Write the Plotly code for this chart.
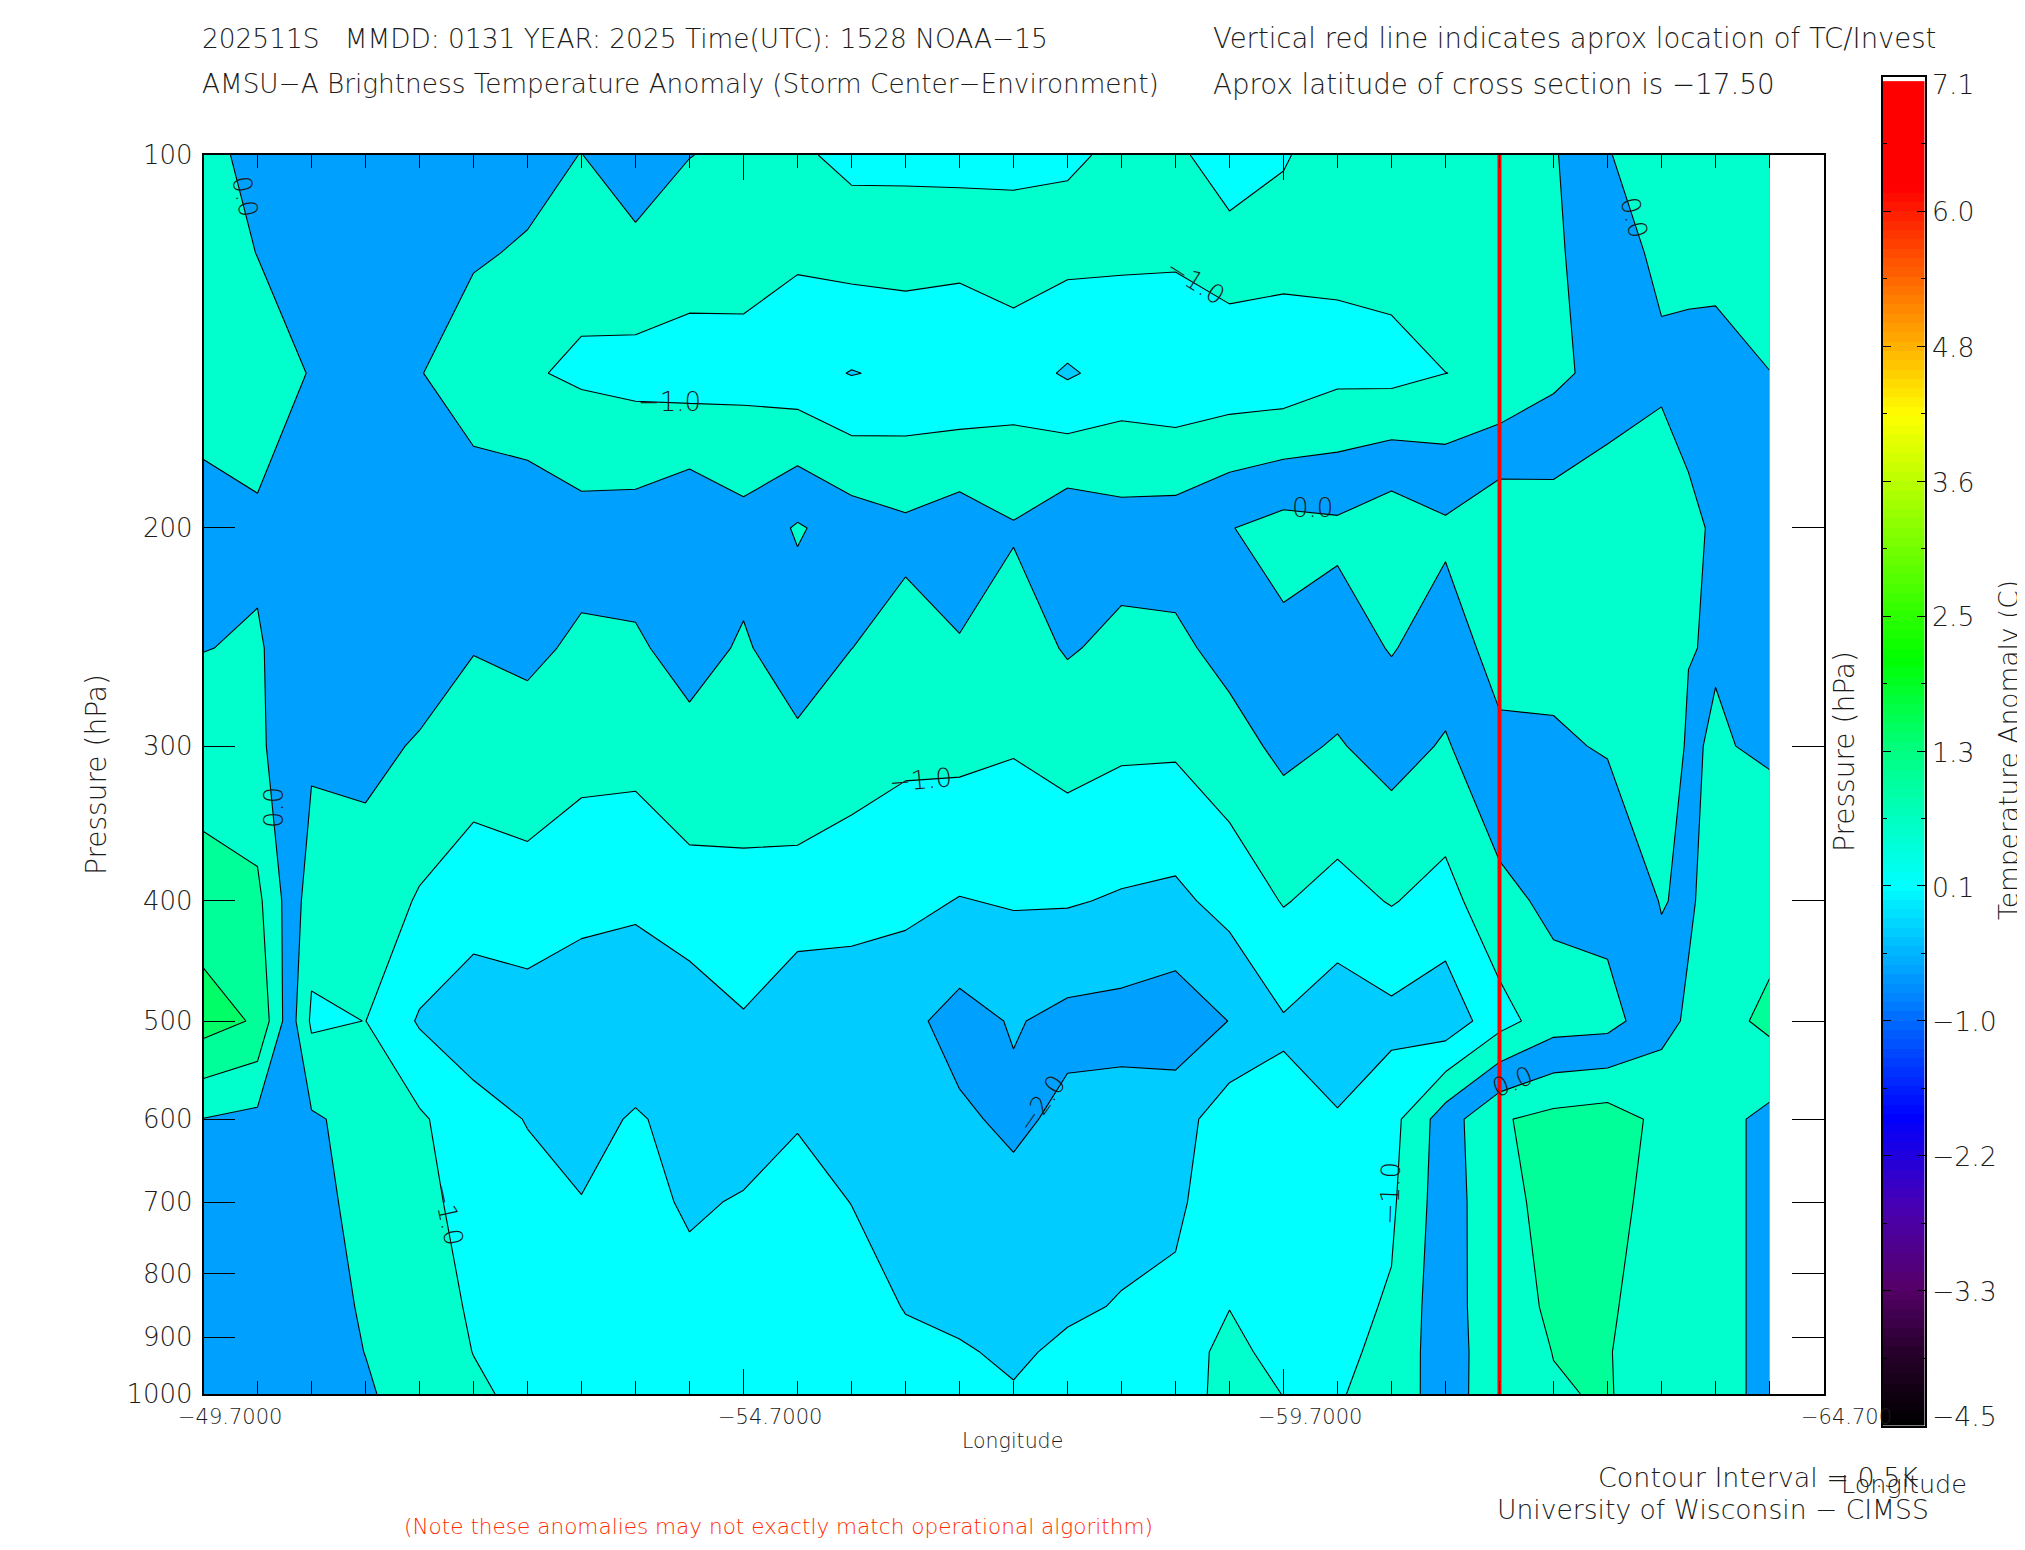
import plotly.graph_objects as go

W, H = 2025, 1550
OX, OY = 8, 8  # page offset of the plot div

# grid: longitude columns, pressure rows, anomaly values per row
lons = [-49.7, -50.2, -50.7, -51.2, -51.7, -52.2, -52.7, -53.2, -53.7, -54.2,
        -54.7, -55.2, -55.7, -56.2, -56.7, -57.2, -57.7, -58.2, -58.7, -59.2,
        -59.7, -60.2, -60.7, -61.2, -61.7, -62.2, -62.7, -63.2, -63.45, -63.7, -64.2]
pressure = [100, 120, 150, 200, 250, 300, 400, 500, 600, 700, 850, 925, 1000]

z_100 = [.2, -.2, -.2, -.25, -.25, -.26, -.34, -.51, -.15, -.49, -.6, -.95, -1.08, -1.088, -1.075,
         -1.127, -1.057, -.93, -.87, -1.345, -1.035, -.8, -.75, -.7, -.65, -.55, -.02, .2, .2, .2, .2]
z_120 = [.27, -.01, -.2, -.28, -.32, -.45, -.55, -.82, -.66, -.77, -.82, -.93, -.82, -.81, -.85,
         -.773, -.84, -.93, -.925, -.74, -.82, -.92, -.84, -.78, -.72, -.57, -.25, .115, .22, .157, .2]
z_150 = [.34, .276, -.03, -.25, -.48, -.75, -.95, -1.08, -1.16, -1.23, -1.175, -1.32, -1.52, -1.41, -1.45,
         -1.27, -1.56, -1.31, -1.4, -1.355, -1.35, -1.125, -1.15, -1.002, -.96, -.62, -.32, -.103, -.25, -.2, -.005]
z_200 = [-.27, -.08, -.12, -.09, -.04, -.22, -.15, -.32, -.28, -.05, -.33, .05, -.23, -.4, -.21,
         -.46, -.13, -.3, -.26, -.02, .18, .1, .36, .09, .445, .283, .38, .37, .14, -.085, -.4]
z_250 = [-.01, .04, -.28, -.24, -.29, -.48, -.41, -.575, -.56, -.34, -.55, -.27, -.497, -.645, -.54,
         -.71, -.46, -.61, -.6, -.35, -.11, -.22, .03, -.23, .17, .11, .2, .28, .01, -.02, -.23]
z_300 = [.23, .08, -.41, -.39, -.54, -.74, -.68, -.83, -.84, -.63, -.73, -.59, -.76, -.89, -.87,
         -.96, -.8, -.92, -.93, -.68, -.39, -.54, -.31, -.55, -.1, -.05, .03, .19, -.036, .03, -.05]
z_400 = [.72, .62, -.76, -.69, -1.05, -1.27, -1.2, -1.34, -1.39, -1.21, -1.14, -1.23, -1.3, -1.38, -1.52,
         -1.46, -1.46, -1.55, -1.61, -1.33, -.97, -1.17, -.97, -1.18, -.64, -.39, -.33, .02, -.06, .17, .28]
z_500 = [1.22, .94, -1.08, -.995, -1.55, -1.79, -1.73, -1.85, -1.95, -1.79, -1.54, -1.87, -1.83, -1.87, -2.18,
         -1.96, -2.13, -2.17, -2.28, -1.99, -1.54, -1.81, -1.64, -1.82, -1.185, -.73, -.68, -.156, .067, .3, .62]
z_600 = [-.01, -.13, -.44, -.66, -.93, -1.31, -1.52, -1.7, -1.44, -1.7, -1.8, -1.55, -1.8, -1.85, -1.92,
         -2.1, -1.886, -1.805, -1.72, -1.21, -1.41, -1.46, -1.17, -.236, .45, .65, .74, .38, .28, .17, -.13]
z_700 = [-.2, -.25, -.4, -.6, -.85, -1.19, -1.354, -1.48, -1.3, -1.58, -1.45, -1.26, -1.51, -1.75, -1.8,
         -1.85, -1.8, -1.72, -1.6, -1.15, -1.3, -1.3, -1.08, -.2, .3, .7, .7, .28, .23, .17, -.13]
z_850 = [-.2, -.25, -.38, -.53, -.72, -1.07, -1.25, -1.3, -1.25, -1.3, -1.25, -1.2, -1.2, -1.53, -1.65,
         -1.65, -1.6, -1.46, -1.39, -1.01, -1.25, -1.15, -.95, -.15, .22, .6, .58, .2, .18, .17, -.13]
z_925 = [-.2, -.25, -.35, -.505, -.66, -1.01, -1.2, -1.25, -1.2, -1.25, -1.2, -1.15, -1.15, -1.35, -1.44,
         -1.6, -1.38, -1.3, -1.2, -.88, -1.15, -1.1, -.88, -.17, .22, .51, .53, .2, .18, .17, -.13]
z_1000 = [-.2, -.2, -.25, -.46, -.65, -.9, -1.15, -1.2, -1.2, -1.2, -1.2, -1.1, -1.1, -1.3, -1.35,
          -1.45, -1.3, -1.25, -1.1, -.93, -1.003, -1.02, -.9, -.15, .2, .46, .54, .2, .18, .17, -.13]

tc_lon = -61.7

# first entry only pads the scale, plotly reads the fill one band up
band_colors = ['#00a0ff', '#00a0ff', '#00ccff', '#00ffff', '#00ffcc', '#00a0ff', '#00ffcc', '#00ff99', '#00ff66']

y_ticks = [100, 200, 300, 400, 500, 600, 700, 800, 900, 1000]
x_major = [-49.7, -54.7, -59.7, -64.7]
x_minor = [-50.2, -50.7, -51.2, -51.7, -52.2, -52.7, -53.2, -53.7, -54.2, -55.2, -55.7, -56.2, -56.7, -57.2,
           -57.7, -58.2, -58.7, -59.2, -60.2, -60.7, -61.2, -61.7, -62.2, -62.7, -63.2, -63.7, -64.2]

# colour bar ramp
cb_stops = [[-4.5, '#000000'], [-3.9, '#250028'], [-3.3, '#55006a'], [-2.6, '#4800b4'], [-1.85, '#0000ff'],
            [.14, '#00ffff'], [1.3, '#00ff80'], [2.1, '#00ff00'], [4.18, '#ffff00'], [6.15, '#ff0000'], [7.1, '#ff0000']]
cb_major = [-4.5, -3.34, -2.18, -1.02, .14, 1.3, 2.46, 3.62, 4.78, 5.94, 7.1]
cb_minor = [-3.92, -2.76, -1.6, -.44, .72, 1.88, 3.04, 4.2, 5.36, 6.52]
cb_labels = ['−4.5', '−3.3', '−2.2', '−1.0', '0.1', '1.3', '2.5', '3.6', '4.8', '6.0', '7.1']
cb_label_y = [1416, 1291, 1156, 1021, 887, 752, 617, 482, 347, 212, 84]

FONT = 'DejaVu Sans Light, DejaVu Sans'
INK = '#1c1c1c'


def fx(x):
    return (x - OX) / (W - OX)


def fy(y):
    return 1 - (y - OY) / (H - OY)


fig = go.Figure()

n = len(band_colors)
scale = []
for i, c in enumerate(band_colors):
    scale += [[i / n, c], [(i + 1) / n, c]]

fig.add_trace(go.Contour(
    x=lons, y=pressure,
    z=[z_100, z_120, z_150, z_200, z_250, z_300, z_400, z_500, z_600, z_700, z_850, z_925, z_1000],
    autocontour=False,
    contours=dict(start=-2.5, end=1.5, size=.5, coloring='fill', showlabels=False),
    colorscale=scale, showscale=False,
    line=dict(color='black', width=1.1, smoothing=0),
    hoverinfo='skip',
))
fig.add_trace(go.Scatter(x=[tc_lon, tc_lon], y=[100, 1000], mode='lines',
                         line=dict(color='#ff0000', width=4), hoverinfo='skip', showlegend=False))

# colour bar as its own little heatmap
lo, hi = -4.5, 7.1
cb_y = [round(-4.5 + .08 * i, 2) for i in range(145)]
stops = [[(v - lo) / (hi - lo), c] for v, c in cb_stops]
fig.add_trace(go.Heatmap(x=[0], y=cb_y, z=[[v] for v in cb_y], zmin=lo, zmax=hi, colorscale=stops,
                         showscale=False, hoverinfo='skip', xaxis='x2', yaxis='y2'))

fig.update_layout(
    width=W - OX, height=H - OY, margin=dict(l=0, r=0, t=0, b=0, autoexpand=False), autosize=False,
    paper_bgcolor='white', plot_bgcolor='white', showlegend=False,
    xaxis=dict(domain=[fx(203.5), fx(1823.5)], range=[-49.7, -64.7], autorange=False, showgrid=False, zeroline=False,
               showline=True, mirror='allticks', linecolor='black', linewidth=1.5,
               tickmode='array', tickvals=x_major, ticks='inside', ticklen=25, tickcolor='black', tickwidth=1,
               showticklabels=False,
               minor=dict(tickmode='array', tickvals=x_minor, ticks='inside', ticklen=13, tickcolor='black', tickwidth=1)),
    yaxis=dict(domain=[fy(1394), fy(155)], type='log', range=[3, 2], autorange=False, showgrid=False, zeroline=False,
               showline=True, mirror='allticks', linecolor='black', linewidth=1.5,
               tickmode='array', tickvals=y_ticks, ticktext=[str(v) for v in y_ticks],
               ticks='inside', ticklen=32, tickcolor='black', tickwidth=1, ticklabelstandoff=4,
               tickfont=dict(family=FONT, size=26, color=INK)),
    xaxis2=dict(domain=[fx(1883), fx(1924.5)], range=[-.5, .5], anchor='y2', showgrid=False, zeroline=False,
                showline=True, mirror=True, linecolor='black', linewidth=1.5, showticklabels=False, ticks=''),
    yaxis2=dict(domain=[fy(1425.5), fy(76.5)], range=[lo, hi], anchor='x2', autorange=False, showgrid=False, zeroline=False,
                showline=True, mirror='allticks', linecolor='black', linewidth=1.5,
                tickmode='array', tickvals=cb_major, ticks='inside', ticklen=8, tickcolor='black', tickwidth=1,
                showticklabels=False,
                minor=dict(tickmode='array', tickvals=cb_minor, ticks='inside', ticklen=4, tickcolor='black', tickwidth=1)),
)


def text(s, x, y, size=26, anchor='left', angle=0, color=INK):
    fig.add_annotation(text=s, x=fx(x), y=fy(y), xref='paper', yref='paper', showarrow=False,
                       xanchor=anchor, yanchor='middle', textangle=angle,
                       font=dict(family=FONT, size=size, color=color))


text('202511S\u00a0\u00a0\u00a0MMDD: 0131 YEAR: 2025 Time(UTC): 1528 NOAA−15', 200, 38, size=26.4)
text('AMSU−A Brightness Temperature Anomaly (Storm Center−Environment)', 200, 84, size=26.3)
text('Vertical red line indicates aprox location of TC/Invest', 1211, 38, size=27.5)
text('Aprox latitude of cross section is −17.50', 1211, 84, size=27.7)

text('Pressure (hPa)', 96, 775, size=28, angle=-90, anchor='center')
text('Pressure (hPa)', 1844, 752, size=28, angle=-90, anchor='center')
text('Temperature Anomaly (C)', 2008, 750, size=26.5, angle=-90, anchor='center')

text('−49.7000', 230, 1417, size=21, anchor='center')
text('−54.7000', 770, 1417, size=21, anchor='center')
text('−59.7000', 1310, 1417, size=21, anchor='center')
text('−64.700', 1799, 1417, size=21)
text('Longitude', 1012, 1441, size=20.5, anchor='center')

text('Contour Interval = 0.5K', 1596, 1477, size=27)
text('Longitude', 1839, 1484, size=25.5)
text('University of Wisconsin − CIMSS', 1495, 1509, size=26.6)
text('(Note these anomalies may not exactly match operational algorithm)', 402, 1526, size=21.6, color='#ff2a00')

for label, y in zip(cb_labels, cb_label_y):
    text(label, 1930, y, size=26.7)

# contour annotations placed by eye: text, x, y, angle
contour_labels = [('0.0', 245, 196, 78), ('0.0', 1634, 217, 75), ('−1.0', 669, 402, 0), ('−1.0', 1195, 281, 32),
                  ('0.0', 1312, 508, 0), ('0.0', 274, 808, -90), ('−1.0', 920, 780, -5), ('−2.0', 1041, 1104, -55),
                  ('−1.0', 448, 1214, 78), ('−1.0', 1390, 1194, -88), ('0.0', 1512, 1082, -22)]
for s, x, y, a in contour_labels:
    text(s, x, y, size=26, anchor='center', angle=a)

fig.write_html("out.html")
